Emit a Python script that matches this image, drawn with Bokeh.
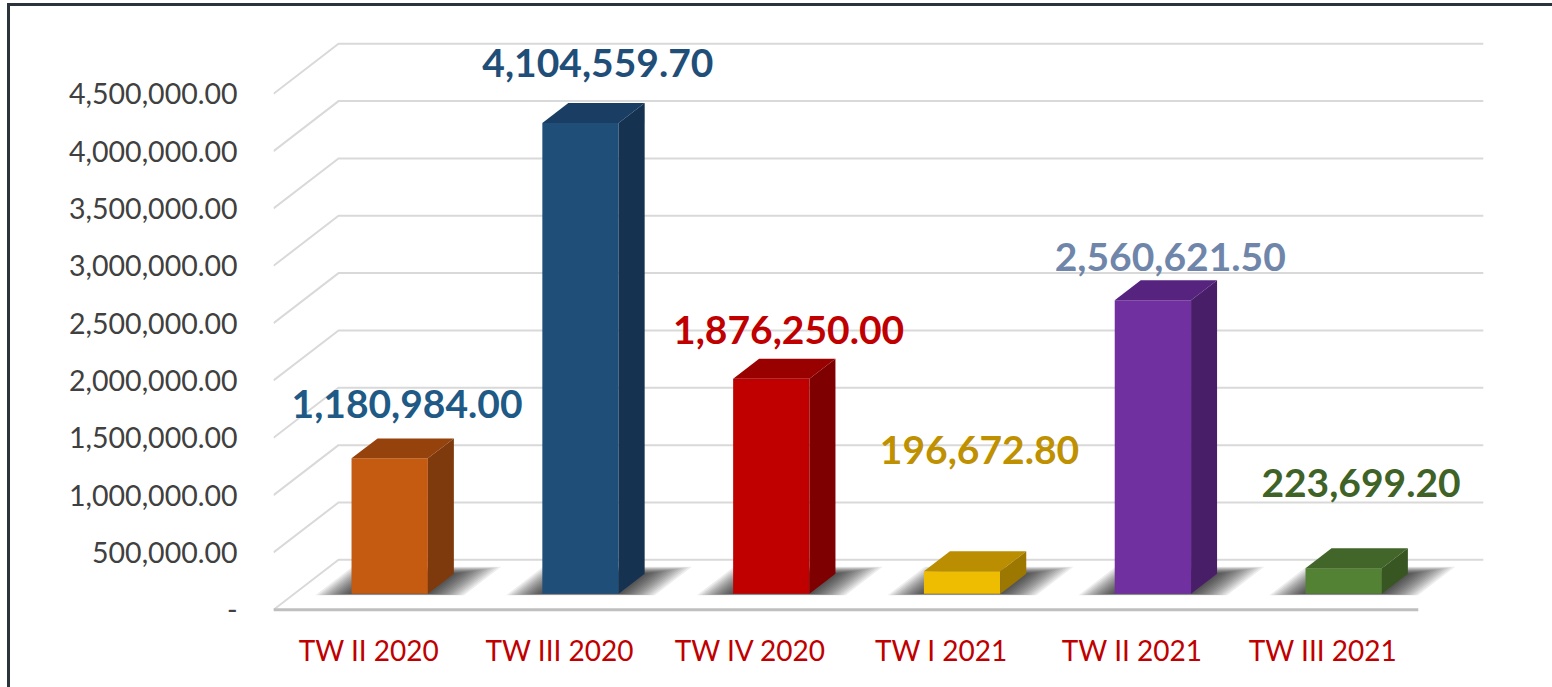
from bokeh.plotting import figure
from bokeh.models import ColumnDataSource, Range1d, FixedTicker, NumeralTickFormatter
from bokeh.core.properties import value
from bokeh.embed import file_html
from bokeh.resources import INLINE

# ---------------- data ----------------
categories = ["TW II 2020", "TW III 2020", "TW IV 2020", "TW I 2021", "TW II 2021", "TW III 2021"]
values = [1180984.00, 4104559.70, 1876250.00, 196672.80, 2560621.50, 223699.20]
y_ticks = [0, 500000, 1000000, 1500000, 2000000, 2500000, 3000000, 3500000, 4000000, 4500000]

front_colors = ["#C55A11", "#1F4E79", "#C00000", "#EEBC00", "#7030A0", "#548235"]
top_colors = ["#96420D", "#1A3E63", "#990000", "#BA8E00", "#56237F", "#42652A"]
side_colors = ["#7E3A0C", "#163251", "#7F0000", "#9C7800", "#481E69", "#375621"]
label_colors = ["#1E5A85", "#1F4E79", "#C00000", "#BF9000", "#6F86AA", "#3F6327"]
label_lift = [618000, 660000, 560000, 1193000, 512000, 878000]

# ---------------- 3D layout ----------------
DX = 0.3407      # depth offset in category units
DY = 436000      # depth offset in value units
F, B = 0.32, 0.72  # bar front / back depth
HALF = 0.2       # half bar width
n = len(categories)

p = figure(frame_width=1211, frame_height=594, output_backend="svg", toolbar_location=None,
           x_range=Range1d(0, n + 0.347), y_range=Range1d(-41000, 5139000),
           min_border_left=263, min_border_right=69, min_border_top=14, min_border_bottom=75)
p.outline_line_color = None
p.xgrid.visible = False
p.ygrid.visible = False
p.background_fill_color = "white"
p.border_fill_color = "white"
p.styles = {"border-top": "3px solid #2B333D", "border-left": "3px solid #2B333D",
            "border-right": "3px solid #2B333D", "margin-left": "7px", "margin-top": "3px"}

# walls: left side diagonals + back wall horizontals
wx, wy = [], []
for t in y_ticks:
    wx.append([0, DX, n + DX])
    wy.append([t, t + DY, t + DY])
p.multi_line(wx, wy, line_color="#D9D9D9", line_width=2)
# floor front edge
p.line([0, n], [0, 0], line_color="#BFBFBF", line_width=3)

# soft shadows on the floor
sx, sy = [], []
K = 14
for i, v in enumerate(values):
    c = i + 0.5
    for k in range(K):
        s = 1 - k / K
        el = 0.18 * s
        er = 0.2 * s
        d0 = F - 0.03 * s
        d1 = B + 0.14 * s
        xl, xr = c - HALF - el, c + HALF + er
        sx.append([xl + d0 * DX, xr + d0 * DX, xr + d1 * DX, xl + d1 * DX])
        sy.append([d0 * DY, d0 * DY, d1 * DY, d1 * DY])
p.patches(sx, sy, fill_color="black", fill_alpha=0.07, line_color=None)

# bars
fl, fr, fb, ft = [], [], [], []
tx, ty, kx, ky = [], [], [], []
for i, v in enumerate(values):
    c = i + 0.5
    xl, xr = c - HALF, c + HALF
    fl.append(xl + F * DX); fr.append(xr + F * DX)
    fb.append(F * DY); ft.append(v + F * DY)
    tx.append([xl + F * DX, xr + F * DX, xr + B * DX, xl + B * DX])
    ty.append([v + F * DY, v + F * DY, v + B * DY, v + B * DY])
    kx.append([xr + F * DX, xr + B * DX, xr + B * DX, xr + F * DX])
    ky.append([F * DY, B * DY, v + B * DY, v + F * DY])
p.quad(left=fl, right=fr, bottom=fb, top=ft, fill_color=front_colors, line_color=None)
p.patches(tx, ty, fill_color=top_colors, line_color=None)
p.patches(kx, ky, fill_color=side_colors, line_color=None)

# data labels
lsrc = ColumnDataSource(dict(
    x=[i + 0.5 + 0.2 for i in range(n)],
    y=[v + l for v, l in zip(values, label_lift)],
    t=[f"{v:,.2f}" for v in values],
    c=label_colors))
p.text("x", "y", text="t", source=lsrc, text_color="c", text_font=value("Lato"),
       text_font_style="bold", text_font_size="39px", text_align="center", text_baseline="middle")

# axes
p.yaxis.ticker = FixedTicker(ticks=y_ticks)
p.yaxis.formatter = NumeralTickFormatter(format="0,0.00")
p.yaxis.major_label_overrides = {0: "-"}
p.yaxis.major_label_text_font = "Lato"
p.yaxis.major_label_text_font_size = "28.5px"
p.yaxis.major_label_text_color = "#404040"
p.yaxis.major_label_standoff = 36

xt = [i + 0.5 for i in range(n)]
p.xaxis.ticker = FixedTicker(ticks=xt)
p.xaxis.major_label_overrides = {t: c for t, c in zip(xt, categories)}
p.xaxis.major_label_text_font = "Lato"
p.xaxis.major_label_text_font_size = "28px"
p.xaxis.major_label_text_color = "#C00000"
p.xaxis.major_label_standoff = 18

for ax in (p.xaxis, p.yaxis):
    ax.axis_line_color = None
    ax.major_tick_line_color = None
    ax.minor_tick_line_color = None
    ax.major_tick_out = 0
    ax.major_tick_in = 0

open("out.html", "w").write(file_html(p, INLINE))
